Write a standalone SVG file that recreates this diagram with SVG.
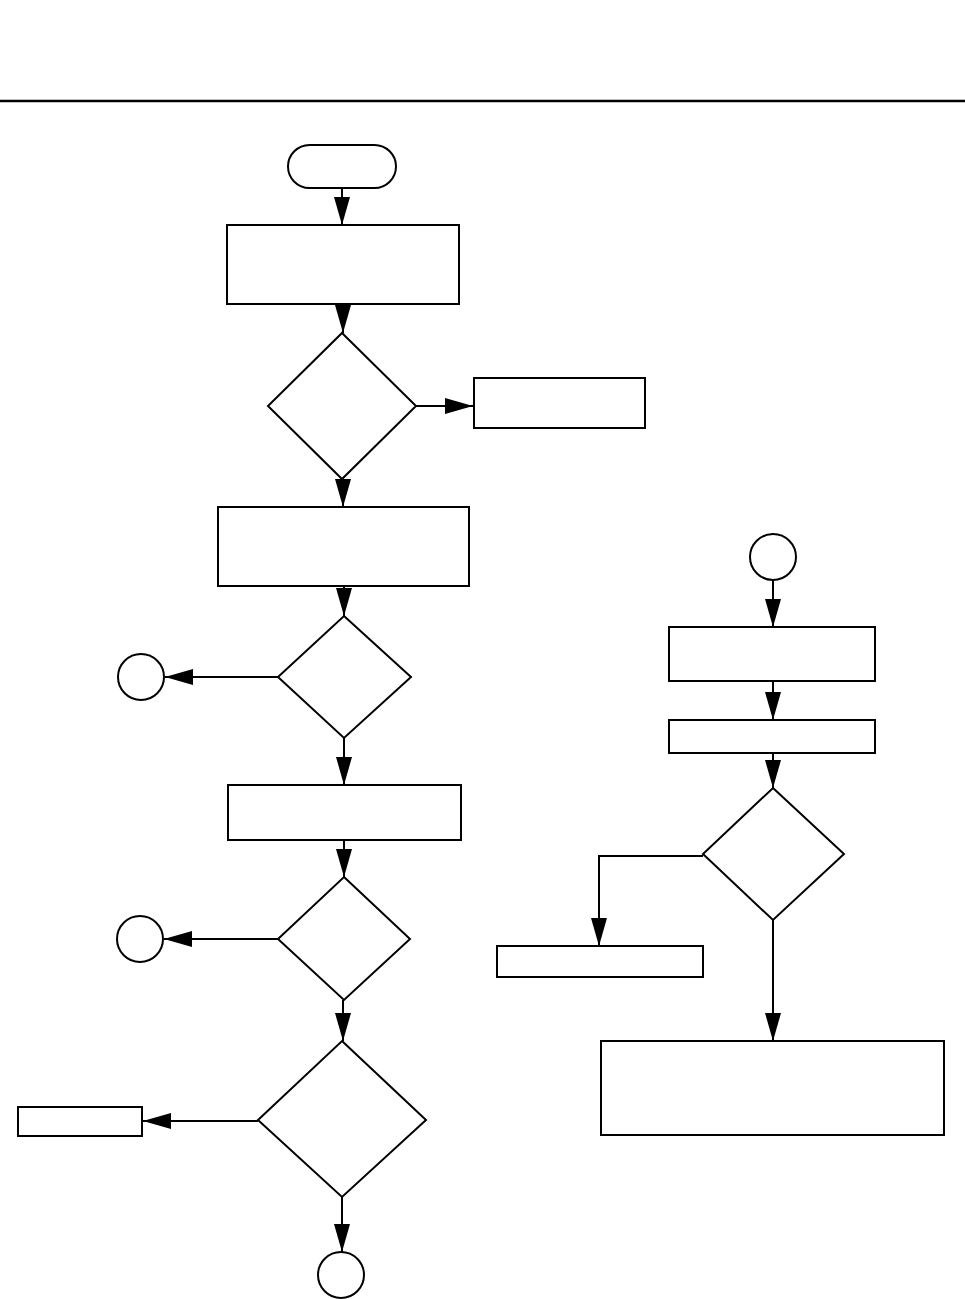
<svg xmlns="http://www.w3.org/2000/svg" width="965" height="1299" viewBox="0 0 965 1299">
<style>
.n{fill:#fff;stroke:#000;stroke-width:2}
.c{fill:none;stroke:#000;stroke-width:2}
</style>
<defs>
<marker id="ah" markerUnits="userSpaceOnUse" markerWidth="28" markerHeight="16" refX="28" refY="8" orient="auto">
<path d="M0,0 L28,8 L0,16 Z" fill="#000"/>
</marker>
</defs>
<rect width="965" height="1299" fill="#fff"/>
<line x1="0" y1="101" x2="965" y2="101" stroke="#000" stroke-width="2.5"/>
<g id="connectors">
<path class="c" d="M342,188 V225" marker-end="url(#ah)"/>
<path class="c" d="M343,304 V333" marker-end="url(#ah)"/>
<path class="c" d="M416,406 H473" marker-end="url(#ah)"/>
<path class="c" d="M343,479 V507" marker-end="url(#ah)"/>
<path class="c" d="M344,586 V616" marker-end="url(#ah)"/>
<path class="c" d="M278,677 H165" marker-end="url(#ah)"/>
<path class="c" d="M344,738 V785" marker-end="url(#ah)"/>
<path class="c" d="M344,840 V877" marker-end="url(#ah)"/>
<path class="c" d="M278,939 H164" marker-end="url(#ah)"/>
<path class="c" d="M343,1000 V1041" marker-end="url(#ah)"/>
<path class="c" d="M258,1121 H143" marker-end="url(#ah)"/>
<path class="c" d="M342,1197 V1252" marker-end="url(#ah)"/>
<path class="c" d="M773,580 V627" marker-end="url(#ah)"/>
<path class="c" d="M773,681 V720" marker-end="url(#ah)"/>
<path class="c" d="M773,753 V788" marker-end="url(#ah)"/>
<path class="c" d="M703,856 H599 V946" marker-end="url(#ah)"/>
<path class="c" d="M773,920 V1041" marker-end="url(#ah)"/>
</g>
<g id="start"><rect class="n" x="288" y="145" width="108" height="43" rx="21.5"/></g>
<g id="box1"><rect class="n" x="227" y="225" width="232" height="79"/></g>
<g id="dec1"><polygon class="n" points="342,333 416,406 342,479 268,406"/></g>
<g id="side1"><rect class="n" x="474" y="378" width="171" height="50"/></g>
<g id="box2"><rect class="n" x="218" y="507" width="251" height="79"/></g>
<g id="dec2"><polygon class="n" points="344,616 411,677 344,738 278,677"/></g>
<g id="conn1"><circle class="n" cx="141" cy="677" r="23"/></g>
<g id="box3"><rect class="n" x="228" y="785" width="233" height="55"/></g>
<g id="dec3"><polygon class="n" points="344,877 410,939 344,1000 278,939"/></g>
<g id="conn2"><circle class="n" cx="140" cy="939" r="23"/></g>
<g id="dec4"><polygon class="n" points="342,1041 426,1120 342,1197 258,1120"/></g>
<g id="side2"><rect class="n" x="18" y="1107" width="124" height="29"/></g>
<g id="conn3"><circle class="n" cx="341" cy="1275" r="23"/></g>
<g id="conn4"><circle class="n" cx="773" cy="557" r="23"/></g>
<g id="box4"><rect class="n" x="669" y="627" width="206" height="54"/></g>
<g id="box5"><rect class="n" x="669" y="720" width="206" height="33"/></g>
<g id="dec5"><polygon class="n" points="773,788 844,854 773,920 703,854"/></g>
<g id="box6"><rect class="n" x="497" y="946" width="206" height="31"/></g>
<g id="box7"><rect class="n" x="601" y="1041" width="343" height="94"/></g>
</svg>
